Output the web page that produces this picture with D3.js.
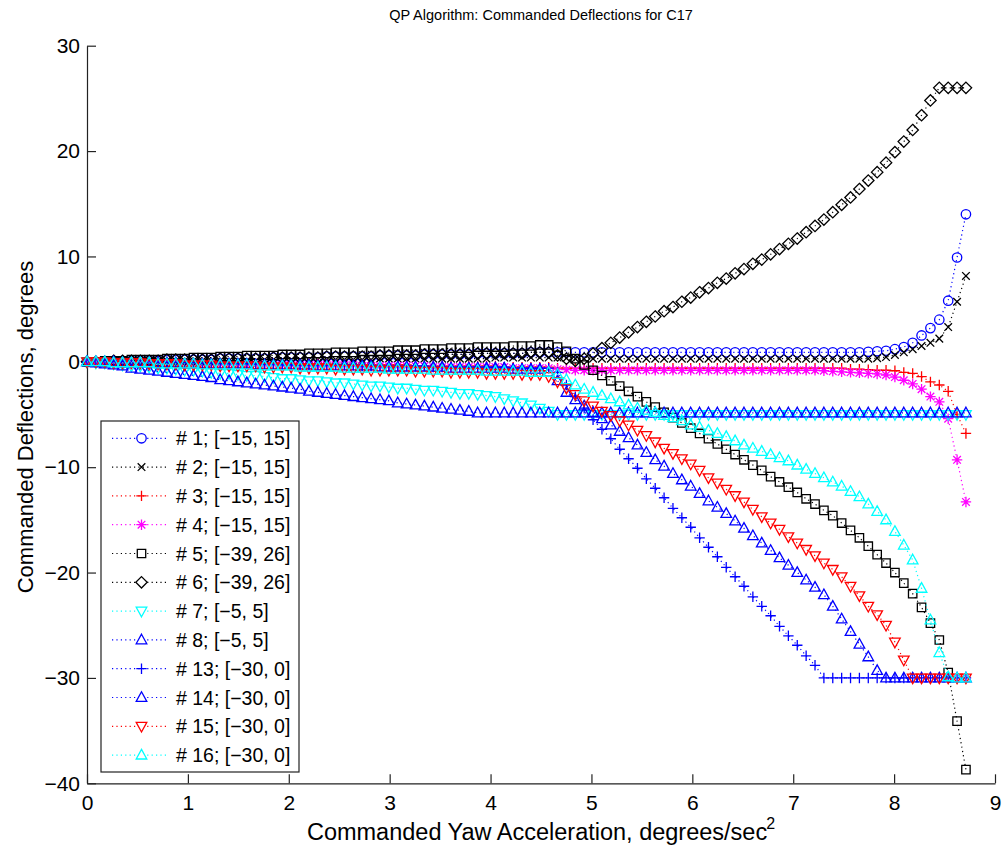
<!DOCTYPE html>
<html>
<head>
<meta charset="utf-8">
<script src="https://cdn.jsdelivr.net/npm/d3@7"></script>
<style>
body { margin: 0; background: #fff; }
svg { display: block; font-family: "Liberation Sans", Arial, Helvetica, sans-serif; }
</style>
</head>
<body>
<svg id="chart" width="1003" height="852"></svg>
<script>
// commanded yaw acceleration samples
const xs = [0,0.088,0.176,0.264,0.352,0.44,0.528,0.616,0.704,0.792,
  0.88,0.968,1.056,1.144,1.232,1.32,1.408,1.496,1.584,1.672,
  1.76,1.848,1.936,2.024,2.112,2.2,2.288,2.376,2.464,2.552,
  2.64,2.728,2.816,2.904,2.992,3.08,3.168,3.256,3.344,3.432,
  3.52,3.608,3.696,3.784,3.872,3.96,4.048,4.136,4.224,4.312,
  4.4,4.488,4.576,4.664,4.752,4.84,4.928,5.016,5.104,5.192,
  5.28,5.368,5.456,5.544,5.632,5.72,5.808,5.896,5.984,6.072,
  6.16,6.248,6.336,6.424,6.512,6.6,6.688,6.776,6.864,6.952,
  7.04,7.128,7.216,7.304,7.392,7.48,7.568,7.656,7.744,7.832,
  7.92,8.008,8.096,8.184,8.272,8.36,8.448,8.536,8.624,8.712];

const s1 = [0,0,0,0.1,0.1,0.1,0.1,0.1,0.1,0.2,
  0.2,0.2,0.2,0.2,0.2,0.3,0.3,0.3,0.3,0.3,
  0.3,0.4,0.4,0.4,0.4,0.4,0.4,0.5,0.5,0.5,
  0.5,0.5,0.5,0.6,0.6,0.6,0.6,0.6,0.7,0.7,
  0.7,0.7,0.7,0.7,0.8,0.8,0.8,0.8,0.8,0.8,
  0.9,0.9,0.9,0.9,0.9,0.9,0.9,0.9,0.9,0.9,
  0.9,0.9,0.9,0.9,0.9,0.9,0.9,0.9,0.9,0.9,
  0.9,0.9,0.9,0.9,0.9,0.9,0.9,0.9,0.9,0.9,
  0.9,0.9,0.9,0.9,0.9,0.9,0.9,0.9,0.95,1.0,
  1.05,1.2,1.4,1.8,2.5,3.2,4.0,5.8,9.9,14.0];
const s2 = [0,0,0,0,0,0,0,0.1,0.1,0.1,
  0.1,0.1,0.1,0.1,0.1,0.1,0.1,0.1,0.1,0.1,
  0.2,0.2,0.2,0.2,0.2,0.2,0.2,0.2,0.2,0.2,
  0.2,0.2,0.2,0.3,0.3,0.3,0.3,0.3,0.3,0.3,
  0.3,0.3,0.3,0.3,0.3,0.3,0.4,0.4,0.4,0.4,
  0.4,0.4,0.4,0.4,0.35,0.3,0.3,0.3,0.3,0.3,
  0.3,0.3,0.3,0.3,0.3,0.3,0.3,0.3,0.3,0.3,
  0.3,0.3,0.3,0.3,0.3,0.3,0.3,0.3,0.3,0.3,
  0.3,0.3,0.3,0.3,0.3,0.3,0.3,0.3,0.3,0.35,
  0.45,0.65,0.9,1.2,1.5,1.8,2.2,3.3,5.7,8.15];
const s3 = [0,0,0,0,0,0,-0.1,-0.1,-0.1,-0.1,
  -0.1,-0.1,-0.1,-0.1,-0.1,-0.1,-0.2,-0.2,-0.2,-0.2,
  -0.2,-0.2,-0.2,-0.2,-0.2,-0.2,-0.2,-0.3,-0.3,-0.3,
  -0.3,-0.3,-0.3,-0.3,-0.3,-0.3,-0.3,-0.4,-0.4,-0.4,
  -0.4,-0.4,-0.4,-0.4,-0.4,-0.4,-0.4,-0.5,-0.5,-0.5,
  -0.5,-0.5,-0.5,-0.6,-0.6,-0.6,-0.6,-0.6,-0.6,-0.6,
  -0.6,-0.6,-0.6,-0.6,-0.6,-0.6,-0.6,-0.6,-0.6,-0.6,
  -0.6,-0.6,-0.6,-0.6,-0.6,-0.6,-0.6,-0.6,-0.6,-0.6,
  -0.6,-0.6,-0.6,-0.6,-0.6,-0.6,-0.7,-0.7,-0.75,-0.8,
  -0.8,-0.85,-1.0,-1.1,-1.4,-1.9,-2.2,-2.8,-5.0,-6.8];
const s4 = [0,0,0,0,0,-0.1,-0.1,-0.1,-0.1,-0.1,
  -0.1,-0.1,-0.1,-0.2,-0.2,-0.2,-0.2,-0.2,-0.2,-0.2,
  -0.2,-0.2,-0.3,-0.3,-0.3,-0.3,-0.3,-0.3,-0.3,-0.3,
  -0.3,-0.4,-0.4,-0.4,-0.4,-0.4,-0.4,-0.4,-0.4,-0.5,
  -0.5,-0.5,-0.5,-0.5,-0.5,-0.5,-0.5,-0.5,-0.6,-0.6,
  -0.6,-0.6,-0.6,-0.7,-0.75,-0.8,-0.8,-0.8,-0.8,-0.8,
  -0.8,-0.8,-0.8,-0.8,-0.8,-0.8,-0.8,-0.8,-0.8,-0.8,
  -0.8,-0.8,-0.8,-0.8,-0.8,-0.8,-0.8,-0.8,-0.8,-0.8,
  -0.8,-0.8,-0.8,-0.85,-0.9,-0.95,-1.0,-1.05,-1.1,-1.15,
  -1.25,-1.45,-1.75,-2.1,-2.6,-3.3,-3.8,-5.4,-9.3,-13.3];
const s5 = [0,0,0.1,0.1,0.1,0.2,0.2,0.2,0.2,0.3,
  0.3,0.3,0.4,0.4,0.4,0.5,0.5,0.5,0.6,0.6,
  0.6,0.6,0.7,0.7,0.7,0.8,0.8,0.8,0.9,0.9,
  0.9,1.0,1.0,1.0,1.0,1.1,1.1,1.1,1.2,1.2,
  1.2,1.3,1.3,1.3,1.4,1.4,1.4,1.4,1.5,1.5,
  1.5,1.6,1.6,1.4,1.0,0.3,-0.3,-0.8,-1.3,-1.8,
  -2.3,-2.8,-3.3,-3.8,-4.3,-4.8,-5.3,-5.8,-6.3,-6.8,
  -7.3,-7.8,-8.3,-8.8,-9.3,-9.8,-10.3,-10.9,-11.4,-11.9,
  -12.4,-13.0,-13.5,-14.1,-14.6,-15.3,-16.0,-16.7,-17.5,-18.3,
  -19.1,-20.0,-21.0,-22.0,-23.3,-24.8,-26.4,-29.5,-34.1,-38.7];
const s6 = [0,0,0,0.1,0.1,0.1,0.1,0.1,0.1,0.2,
  0.2,0.2,0.2,0.2,0.2,0.3,0.3,0.3,0.3,0.3,
  0.3,0.4,0.4,0.4,0.4,0.4,0.4,0.5,0.5,0.5,
  0.5,0.5,0.5,0.6,0.6,0.6,0.6,0.6,0.7,0.7,
  0.7,0.7,0.7,0.7,0.8,0.8,0.8,0.8,0.8,0.8,
  0.9,0.9,0.9,0.6,0.3,0.1,0.3,0.8,1.3,1.8,
  2.3,2.8,3.3,3.8,4.3,4.8,5.2,5.7,6.1,6.6,
  7.0,7.5,7.9,8.4,8.8,9.3,9.7,10.2,10.7,11.2,
  11.7,12.3,12.9,13.5,14.2,14.9,15.6,16.4,17.2,18.0,
  18.9,19.9,20.9,22.0,23.4,24.8,26.0,26.0,26.0,26.0];
const s7 = [0,-0.1,-0.1,-0.2,-0.3,-0.4,-0.4,-0.5,-0.6,-0.6,
  -0.7,-0.8,-0.8,-0.9,-1.0,-1.1,-1.1,-1.2,-1.3,-1.3,
  -1.4,-1.5,-1.6,-1.6,-1.7,-1.8,-1.8,-1.9,-2.0,-2.0,
  -2.1,-2.2,-2.3,-2.3,-2.4,-2.5,-2.5,-2.6,-2.7,-2.7,
  -2.8,-2.9,-3.0,-3.0,-3.1,-3.2,-3.3,-3.5,-3.7,-3.9,
  -4.1,-4.4,-4.7,-5.0,-5.0,-5.0,-5.0,-5.0,-5.0,-5.0,
  -5.0,-5.0,-5.0,-5.0,-5.0,-5.0,-5.0,-5.0,-5.0,-5.0,
  -5.0,-5.0,-5.0,-5.0,-5.0,-5.0,-5.0,-5.0,-5.0,-5.0,
  -5.0,-5.0,-5.0,-5.0,-5.0,-5.0,-5.0,-5.0,-5.0,-5.0,
  -5.0,-5.0,-5.0,-5.0,-5.0,-5.0,-5.0,-5.0,-5.0,-5.0];
const s8 = [0,-0.1,-0.2,-0.3,-0.4,-0.6,-0.7,-0.8,-0.9,-1.0,
  -1.1,-1.2,-1.3,-1.4,-1.5,-1.7,-1.8,-1.9,-2.0,-2.1,
  -2.2,-2.3,-2.4,-2.5,-2.6,-2.8,-2.9,-3.0,-3.1,-3.2,
  -3.3,-3.4,-3.5,-3.6,-3.7,-3.9,-4.0,-4.1,-4.2,-4.3,
  -4.4,-4.5,-4.6,-4.7,-4.85,-4.85,-4.85,-4.85,-4.85,-4.85,
  -4.85,-4.85,-4.85,-4.85,-4.85,-4.85,-4.85,-4.85,-4.85,-4.85,
  -4.85,-4.85,-4.85,-4.85,-4.85,-4.85,-4.85,-4.85,-4.85,-4.85,
  -4.85,-4.85,-4.85,-4.85,-4.85,-4.85,-4.85,-4.85,-4.85,-4.85,
  -4.85,-4.85,-4.85,-4.85,-4.85,-4.85,-4.85,-4.85,-4.85,-4.85,
  -4.85,-4.85,-4.85,-4.85,-4.85,-4.85,-4.85,-4.85,-4.85,-4.85];
const s13 = [0,0,0,0,0,-0.1,-0.1,-0.1,-0.1,-0.1,
  -0.1,-0.1,-0.1,-0.2,-0.2,-0.2,-0.2,-0.2,-0.2,-0.2,
  -0.2,-0.2,-0.3,-0.3,-0.3,-0.3,-0.3,-0.3,-0.3,-0.3,
  -0.3,-0.4,-0.4,-0.4,-0.4,-0.4,-0.4,-0.4,-0.4,-0.5,
  -0.5,-0.5,-0.5,-0.5,-0.5,-0.5,-0.5,-0.5,-0.6,-0.6,
  -0.6,-0.6,-0.6,-1.0,-2.2,-3.3,-4.4,-5.5,-6.4,-7.3,
  -8.3,-9.2,-10.1,-11.1,-12.0,-12.9,-13.9,-14.8,-15.7,-16.7,
  -17.6,-18.5,-19.5,-20.4,-21.3,-22.3,-23.2,-24.1,-25.1,-26.0,
  -26.9,-27.9,-28.8,-30,-30,-30,-30,-30,-30,-30,
  -30,-30,-30,-30,-30,-30,-30,-30,-30,-30];
const s14 = [0,0,0,0,-0.1,-0.1,-0.1,-0.1,-0.1,-0.1,
  -0.1,-0.2,-0.2,-0.2,-0.2,-0.2,-0.2,-0.2,-0.2,-0.3,
  -0.3,-0.3,-0.3,-0.3,-0.3,-0.3,-0.4,-0.4,-0.4,-0.4,
  -0.4,-0.4,-0.4,-0.5,-0.5,-0.5,-0.5,-0.5,-0.5,-0.5,
  -0.5,-0.6,-0.6,-0.6,-0.6,-0.6,-0.6,-0.6,-0.7,-0.7,
  -0.7,-0.7,-1.0,-1.8,-2.9,-3.6,-4.2,-4.8,-5.4,-6.0,
  -6.6,-7.2,-7.9,-8.6,-9.3,-9.9,-10.6,-11.2,-11.8,-12.5,
  -13.2,-13.8,-14.4,-15.1,-15.8,-16.5,-17.2,-17.9,-18.6,-19.3,
  -20.0,-20.7,-21.4,-22.1,-23.2,-24.4,-25.6,-26.8,-28.0,-29.3,
  -30,-30,-30,-30,-30,-30,-30,-30,-30,-30];
const s15 = [0,0,0,-0.1,-0.1,-0.1,-0.1,-0.2,-0.2,-0.2,
  -0.2,-0.3,-0.3,-0.3,-0.3,-0.4,-0.4,-0.4,-0.4,-0.4,
  -0.5,-0.5,-0.5,-0.5,-0.6,-0.6,-0.6,-0.6,-0.7,-0.7,
  -0.7,-0.7,-0.8,-0.8,-0.8,-0.8,-0.8,-0.9,-0.9,-0.9,
  -0.9,-1.0,-1.0,-1.0,-1.0,-1.1,-1.1,-1.1,-1.1,-1.2,
  -1.2,-1.2,-1.4,-1.9,-2.5,-3.1,-3.7,-4.2,-4.7,-5.1,
  -5.6,-6.0,-6.5,-7.0,-7.6,-8.2,-8.7,-9.2,-9.7,-10.3,
  -11.0,-11.5,-12.1,-12.7,-13.3,-14.0,-14.7,-15.3,-15.9,-16.6,
  -17.2,-17.8,-18.4,-19.1,-19.7,-20.4,-21.3,-22.2,-23.2,-24.0,
  -25.0,-26.6,-28.3,-30,-30,-30,-30,-30,-30,-30];
const s16 = [0,0,0,-0.1,-0.1,-0.1,-0.1,-0.1,-0.2,-0.2,
  -0.2,-0.2,-0.2,-0.3,-0.3,-0.3,-0.3,-0.3,-0.3,-0.4,
  -0.4,-0.4,-0.4,-0.4,-0.5,-0.5,-0.5,-0.5,-0.5,-0.6,
  -0.6,-0.6,-0.6,-0.6,-0.7,-0.7,-0.7,-0.7,-0.7,-0.8,
  -0.8,-0.8,-0.8,-0.8,-0.8,-0.9,-0.9,-0.9,-0.9,-0.9,
  -1.0,-1.0,-1.0,-1.2,-1.7,-2.2,-2.6,-2.9,-3.2,-3.5,
  -3.8,-4.1,-4.4,-4.6,-4.8,-5.1,-5.3,-5.6,-6.0,-6.2,
  -6.5,-6.8,-7.1,-7.5,-7.9,-8.2,-8.5,-8.8,-9.1,-9.4,
  -9.8,-10.2,-10.6,-11.0,-11.4,-11.8,-12.3,-12.8,-13.5,-14.2,
  -15.0,-16.1,-17.4,-18.8,-21.5,-24.5,-27.6,-29.9,-30,-30];

const seriesValues = [s1, s2, s3, s4, s5, s6, s7, s8, s13, s14, s15, s16];
const seriesNames = ["# 1; [\u221215, 15]", "# 2; [\u221215, 15]", "# 3; [\u221215, 15]", "# 4; [\u221215, 15]",
  "# 5; [\u221239, 26]", "# 6; [\u221239, 26]", "# 7; [\u22125, 5]", "# 8; [\u22125, 5]",
  "# 13; [\u221230, 0]", "# 14; [\u221230, 0]", "# 15; [\u221230, 0]", "# 16; [\u221230, 0]"];
const seriesColors = ["#0000ff", "#000000", "#ff0000", "#ff00ff", "#000000", "#000000",
  "#00ffff", "#0000ff", "#0000ff", "#0000ff", "#ff0000", "#00ffff"];
const seriesMarkers = ["o", "x", "+", "*", "s", "d", "v", "^", "+", "^", "v", "^"];
const xTicks = [0, 1, 2, 3, 4, 5, 6, 7, 8, 9];
const yTicks = [-40, -30, -20, -10, 0, 10, 20, 30];

const svg = d3.select("#chart");
const x = d3.scaleLinear().domain([0, 9]).range([87, 995]);
const y = d3.scaleLinear().domain([-40, 30]).range([783.3, 45.7]);
const fmt = d => d < 0 ? "\u2212" + Math.abs(d) : String(d);

function markerPath(m) {
    switch (m) {
        case "o": return "M-4.7,0A4.7,4.7 0 1 0 4.7,0A4.7,4.7 0 1 0 -4.7,0Z";
        case "x": return "M-3.8,-3.8L3.8,3.8M-3.8,3.8L3.8,-3.8";
        case "+": return "M-5.2,0H5.2M0,-5.2V5.2";
        case "*": return "M-5.2,0H5.2M0,-5.2V5.2M-3.8,-3.8L3.8,3.8M-3.8,3.8L3.8,-3.8";
        case "s": return "M-4.2,-4.2H4.2V4.2H-4.2Z";
        case "d": return "M0,-5.7L5.7,0L0,5.7L-5.7,0Z";
        case "^": return "M0,-5.7L5.3,3.9L-5.3,3.9Z";
        case "v": return "M0,5.7L5.3,-3.9L-5.3,-3.9Z";
    }
}

// axes
const xAxis = svg.append("g").attr("transform", "translate(0,783.3)")
    .call(d3.axisBottom(x).tickValues(xTicks).tickSizeInner(-9).tickSizeOuter(0).tickPadding(12).tickFormat(fmt));
const yAxis = svg.append("g").attr("transform", "translate(87,0)")
    .call(d3.axisLeft(y).tickValues(yTicks).tickSizeInner(-9).tickSizeOuter(0).tickPadding(7).tickFormat(fmt));
[xAxis, yAxis].forEach(a => {
    a.selectAll("path.domain").attr("stroke", "#222").attr("stroke-width", 1.2);
    a.selectAll(".tick line").attr("stroke", "#222").attr("stroke-width", 1.2);
    a.selectAll("text").attr("fill", "#000").style("font-size", "21px")
        .style("font-family", "'Liberation Sans', Arial, sans-serif");
});

// series
const line = d3.line().x((d, i) => x(xs[i])).y(d => y(d));
seriesValues.forEach((vals, k) => {
    const g = svg.append("g");
    g.append("path").attr("d", line(vals))
        .attr("fill", "none").attr("stroke", seriesColors[k])
        .attr("stroke-width", 1.2).attr("stroke-dasharray", "1.2,3.2");
    g.selectAll("path.mk").data(vals).enter().append("path")
        .attr("class", "mk")
        .attr("transform", (d, i) => `translate(${x(xs[i])},${y(d)})`)
        .attr("d", markerPath(seriesMarkers[k]))
        .attr("fill", "none").attr("stroke", seriesColors[k]).attr("stroke-width", 1.3);
});

// legend
const lg = svg.append("g");
lg.append("rect").attr("x", 101).attr("y", 421).attr("width", 198).attr("height", 351)
    .attr("fill", "#fff").attr("stroke", "#222").attr("stroke-width", 1.2);
seriesNames.forEach((name, k) => {
    const cy = 438.3 + k * 28.8;
    lg.append("line").attr("x1", 112).attr("x2", 166).attr("y1", cy).attr("y2", cy)
        .attr("stroke", seriesColors[k]).attr("stroke-width", 1.2).attr("stroke-dasharray", "1.2,3.2");
    lg.append("path").attr("transform", `translate(141.5,${cy})`).attr("d", markerPath(seriesMarkers[k]))
        .attr("fill", "#fff").attr("stroke", seriesColors[k]).attr("stroke-width", 1.3);
    lg.append("text").attr("x", 176).attr("y", cy + 7).style("font-size", "19.5px").text(name);
});

// labels
svg.append("text").attr("x", 541).attr("y", 20).attr("text-anchor", "middle")
    .style("font-size", "14.5px").text("QP Algorithm: Commanded Deflections for C17");
const xl = svg.append("text").attr("x", 541).attr("y", 840).attr("text-anchor", "middle").style("font-size", "23.5px");
xl.append("tspan").text("Commanded Yaw Acceleration, degrees/sec");
xl.append("tspan").attr("dx", -1).attr("dy", -11).style("font-size", "16px").text("2");
svg.append("text").attr("transform", "translate(33,427) rotate(-90)").attr("text-anchor", "middle")
    .style("font-size", "22px").text("Commanded Deflections, degrees");
</script>
</body>
</html>
